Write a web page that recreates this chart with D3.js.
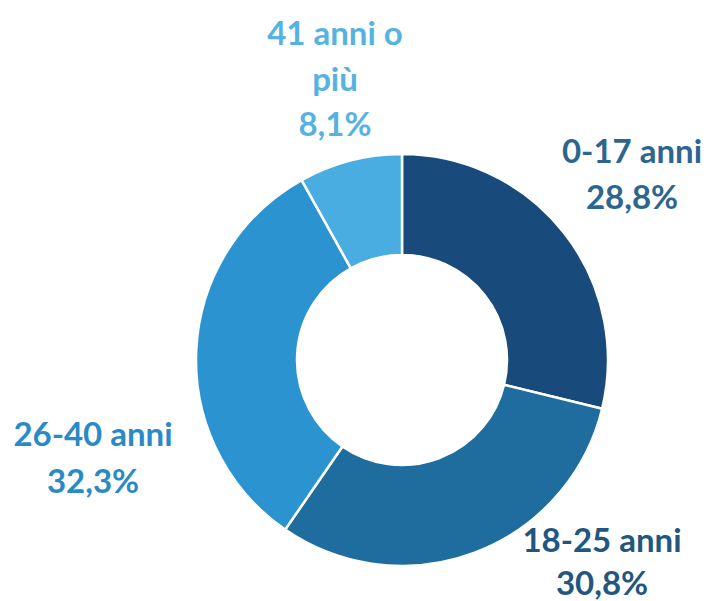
<!DOCTYPE html>
<html><head><meta charset="utf-8">
<script src="https://cdn.jsdelivr.net/npm/d3@7"></script>
<style>body{margin:0;background:#fff}</style>
</head><body>
<svg id="c" width="709" height="601"></svg>
<script>
const categories = ["0-17 anni", "18-25 anni", "26-40 anni", "41 anni o più"];
const values = [28.8, 30.8, 32.3, 8.1];
const labelLines = [["0-17 anni", "28,8%"], ["18-25 anni", "30,8%"], ["26-40 anni", "32,3%"], ["41 anni o", "più", "8,1%"]];
const sliceColors = ["#184b7c", "#1f6c9e", "#2a93d0", "#49ade2"];
const textColors = ["#2c6590", "#22567f", "#2a8ac6", "#56b3e1"];
const labelPos = [[632, 150, 46], [602, 539, 43], [93, 433, 47], [335, 32, 45.5]];

const svg = d3.select("#c");
const cx = 402, cy = 360, rOuter = 206, rInner = 105;
const g = svg.append("g").attr("transform", `translate(${cx},${cy})`);
const pie = d3.pie().sort(null).value(d => d);
const arc = d3.arc().innerRadius(rInner).outerRadius(rOuter);
g.selectAll("path").data(pie(values)).join("path")
  .attr("d", arc)
  .attr("fill", (d, i) => sliceColors[i])
  .attr("stroke", "#fff").attr("stroke-width", 2.5);

categories.forEach((c, i) => {
  const [x, y0, step] = labelPos[i];
  const t = svg.append("text")
    .attr("text-anchor", "middle")
    .attr("font-family", "Lato, 'Open Sans', sans-serif")
    .attr("font-weight", "bold")
    .attr("font-size", 33)
    .attr("fill", textColors[i]);
  labelLines[i].forEach((ln, k) => {
    t.append("tspan").attr("x", x).attr("y", y0 + k * step)
      .attr("dominant-baseline", "central").text(ln);
  });
});
</script>
</body></html>
